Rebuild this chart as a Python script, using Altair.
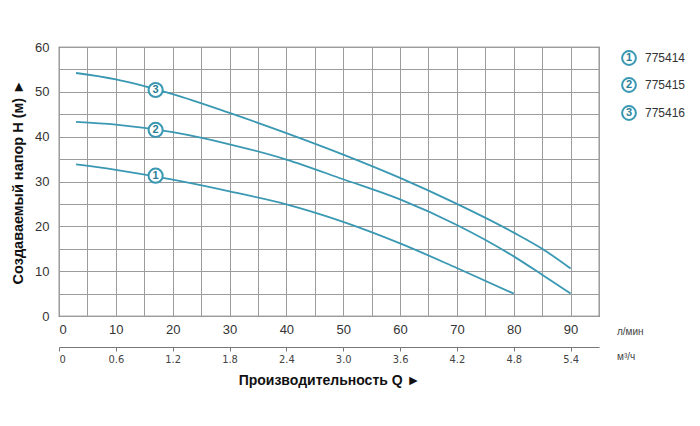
import altair as alt
import pandas as pd

# --- data ---
q_lmin = [3, 10, 20, 30, 40, 50, 60, 70, 80, 85, 90]
h_775414 = [33.8, 32.6, 30.4, 27.8, 24.9, 21.0, 16.2, 10.7, 5.0]
h_775415 = [43.3, 42.7, 41.0, 38.3, 34.9, 30.5, 26.0, 20.3, 13.3, 9.2, 5.0]
h_775416 = [54.2, 52.8, 49.5, 45.3, 40.8, 36.0, 30.8, 25.0, 18.6, 15.0, 10.6]
models = ["775414", "775415", "775416"]
marker_nums = ["1", "2", "3"]
marker_q = [17, 17, 17]
marker_h = [31.3, 41.5, 50.4]
m3h_ticks = [0, 0.6, 1.2, 1.8, 2.4, 3.0, 3.6, 4.2, 4.8, 5.4]
x_grid = list(range(0, 96, 5))
y_grid = list(range(0, 61, 5))

LINE = "#3a98b3"
DARK = "#2a7f96"
FONT = "Liberation Sans"
NARROW = "Liberation Sans Narrow, DejaVu Sans Condensed, Liberation Sans"

rows = []
for name, hs in zip(models, [h_775414, h_775415, h_775416]):
    for i, h in enumerate(hs):
        rows.append({"model": name, "q": q_lmin[i], "h": h, "order": i})
curves = pd.DataFrame(rows)
markers = pd.DataFrame({"q": marker_q, "h": marker_h, "n": marker_nums})
legend_df = pd.DataFrame({"n": marker_nums, "model": models, "yy": [11, 38, 66]})
m3 = pd.DataFrame({"m3": m3h_ticks})

xscale = alt.Scale(domain=[0, 95], nice=False, zero=False)
yscale = alt.Scale(domain=[0, 60], nice=False)

xaxis = alt.Axis(values=x_grid, grid=True, gridColor="#9c9c9c", gridWidth=1,
                 domain=False, ticks=False, labelFontSize=13, labelColor="#333",
                 labelPadding=7, labelFont=FONT, title=None,
                 labelExpr="datum.value % 10 == 0 && datum.value <= 90 ? datum.label : ''")
yaxis = alt.Axis(values=y_grid, grid=True, gridColor="#9c9c9c", gridWidth=1,
                 domain=False, ticks=False, labelFontSize=13, labelColor="#333",
                 labelPadding=10, labelFont=FONT,
                 labelExpr="datum.value % 10 == 0 ? datum.label : ''",
                 title="Создаваемый напор H (м) ►", titleFontSize=14.5,
                 titleFontWeight="bold", titleFont=FONT, titleColor="#111",
                 titlePadding=9)

lines = alt.Chart(curves).mark_line(color=LINE, strokeWidth=1.8, interpolate="monotone").encode(
    x=alt.X("q:Q", scale=xscale, axis=xaxis),
    y=alt.Y("h:Q", scale=yscale, axis=yaxis),
    detail="model:N",
    order="order:Q",
)

circ = alt.Chart(markers).mark_point(shape="circle", filled=True, fill="white",
                                     stroke=LINE, strokeWidth=2, size=200, opacity=1).encode(
    x=alt.X("q:Q", scale=xscale, axis=None), y=alt.Y("h:Q", scale=yscale, axis=None))
nums = alt.Chart(markers).mark_text(font=FONT, fontSize=11, fontWeight="bold", color=DARK).encode(
    x=alt.X("q:Q", scale=xscale, axis=None), y=alt.Y("h:Q", scale=yscale, axis=None), text="n:N")

sec = alt.Chart(m3).mark_point(opacity=0).encode(
    x=alt.X("m3:Q", scale=alt.Scale(domain=[0, 5.7], nice=False, zero=False),
            axis=alt.Axis(orient="bottom", offset=31, values=m3h_ticks,
                          labelExpr="datum.value == 0 ? '0' : format(datum.value, '.1f')",
                          domainColor="#777", tickColor="#777", tickSize=4,
                          labelFont=NARROW, labelFontSize=11,
                          labelColor="#444", labelPadding=2, grid=False,
                          title="Производительность Q ►", titleFont=FONT,
                          titleFontSize=14, titleFontWeight="bold", titleColor="#111",
                          titlePadding=9)),
    y=alt.Y("m3:Q", axis=None),
)

units = alt.Chart(pd.DataFrame({"t": ["л/мин", "м³/ч"], "yy": [285, 310]})).mark_text(
    font=FONT, fontSize=10, color="#444", align="left", baseline="middle").encode(
    x=alt.value(558), y=alt.Y("yy:Q", scale=None, axis=None), text="t:N")

leg_c = alt.Chart(legend_df).mark_point(shape="circle", filled=True, fill="white",
                                        stroke=LINE, strokeWidth=2, size=190, opacity=1).encode(
    x=alt.value(570), y=alt.Y("yy:Q", scale=None, axis=None))
leg_n = alt.Chart(legend_df).mark_text(font=FONT, fontSize=11, fontWeight="bold", color=DARK).encode(
    x=alt.value(570), y=alt.Y("yy:Q", scale=None, axis=None), text="n:N")
leg_t = alt.Chart(legend_df).mark_text(font=FONT, fontSize=12, color="#333", align="left").encode(
    x=alt.value(586), y=alt.Y("yy:Q", scale=None, axis=None), text="model:N")

chart = alt.layer(lines, circ, nums, sec, units, leg_c, leg_n, leg_t).resolve_scale(
    x="independent", y="independent"
).properties(
    width=540, height=269,
    autosize=alt.AutoSizeParams(type="none"),
    padding={"left": 59, "top": 47, "right": 101, "bottom": 110},
    background="white",
).configure_view(stroke="#555", strokeWidth=1.2)

chart.save("out.html", embed_options={"renderer": "svg", "actions": False})
